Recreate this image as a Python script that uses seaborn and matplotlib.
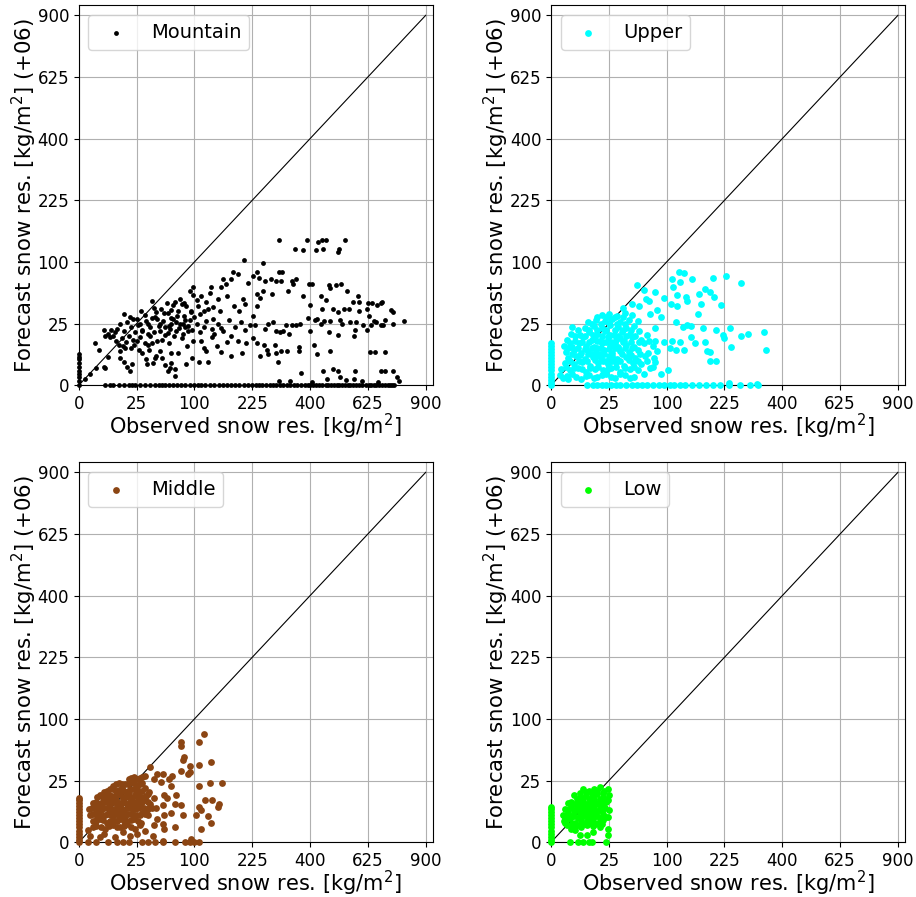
import numpy as np
import pandas as pd
import matplotlib
matplotlib.use("Agg")
import matplotlib.pyplot as plt
import seaborn as sns

# (observed, forecast) pairs in kg/m2
mountain_pts = [
    (1, 0.9), (2.3, 2), (4.8, 2.3), (6.3, 5.3), (2, 11.6), (3.2, 8.4), (5.1, 2), (0.3, 0.3),
    (4.8, 20), (6.3, 17.6), (7.8, 20), (9.6, 18.5), (10.9, 21), (5.3, 16), (9, 16),
    (12.3, 10.9), (13.7, 14.4), (15.2, 19.4), (16.8, 12.3), (18.5, 16), (20.3, 22), (22, 13.7),
    (24, 18.5), (26, 24), (28, 15.2), (13, 7.8), (16, 9), (23, 10.9), (27, 8.4), (15.2, 33.6),
    (21.6, 29), (29, 36), (25, 29), (17.6, 26), (13, 25),
    (15.2, 3.6), (17.6, 2.3), (19.4, 1.4), (21, 2.9), (13, 4.8), (30, 6.8), (33.6, 4.4), (37, 8.4),
    (41, 3.2), (45, 5.8), (49, 7.8), (36, 10.9), (55, 2.6), (59, 1.4), (64, 3.2), (69, 1.7), (69, 0.6),
    (42, 18.5), (44, 31), (48, 23), (50, 38), (53, 27), (56, 16.8), (59, 34), (62, 21), (66, 42),
    (67, 29), (71, 19.4), (74, 36), (77, 25), (81, 17.6), (83, 32), (86, 41), (90, 23), (92, 28),
    (49, 25), (64, 25), (81, 25), (58, 44), (76, 49), (46, 13), (61, 11.6), (79, 14.4), (88, 10.2),
    (52, 4.8), (74, 6.8), (96, 4.8), (108, 3.6),
    (30, 20), (34, 27), (38, 22), (40, 30), (36, 17), (45, 35), (55, 22), (63, 30), (70, 26),
    (85, 22), (95, 35), (60, 18), (33, 12), (40, 12), (28, 25),
    (20.3, 9), (25, 13), (30.3, 19.4), (36, 25), (38.4, 16), (42.3, 39.7), (46.2, 29.2), (49, 19.4),
    (51.8, 13.7), (54.8, 34.8), (60.8, 23), (64, 37.2), (67.2, 16), (72.3, 31.4), (75.7, 21.2),
    (79.2, 43.6), (84.6, 28.1), (88.4, 19.4), (94.1, 36), (100, 30.3), (104, 47.6), (110, 33.6),
    (117, 22.1), (125, 38.4), (135, 29.2), (144, 49), (151, 21.2), (10.2, 13), (7.29, 15.2),
    (19.4, 30.3), (32.5, 32.5), (39.7, 46.2), (14.4, 10.2), (98, 13), (117, 9), (137, 17.6),
    (174, 16), (193, 36), (207, 43.6), (43.6, 4.84), (64, 6.76), (34.8, 2.89), (62.4, 1.96),
    (86.5, 2.89),
    (69, 46), (83, 44), (98, 64), (98, 53), (92, 58),
    (106, 41), (112, 52), (121, 46), (128, 56), (135, 40), (117, 36),
    (130, 64), (151, 64), (161, 67), (174, 74), (156, 74), (177, 85), (190, 81), (204, 104),
    (96, 20), (104, 25), (110, 18.5), (121, 27), (132, 21), (144, 25), (156, 19.4), (169, 28),
    (182, 22), (196, 26), (207, 20), (149, 36), (180, 41), (202, 49), (164, 52), (213, 69),
    (112, 13), (121, 7.8), (132, 15.2), (142, 10.2), (151, 7.3), (125, 3.6), (164, 12.3),
    (174, 5.8), (190, 13), (199, 6.8), (210, 11.6),
    (299, 139), (350, 123), (376, 121), (388, 139), (420, 121), (428, 135), (441, 139),
    (458, 139), (445, 123), (502, 117), (506, 123), (529, 139),
    (253, 98), (228, 79), (237, 85), (243, 76), (299, 85), (310, 85), (276, 74), (259, 72),
    (292, 71), (306, 71), (339, 72), (353, 74), (342, 67), (328, 58), (279, 55), (253, 58),
    (237, 55), (246, 50),
    (396, 67), (408, 67), (376, 52), (437, 52), (458, 48), (467, 66), (471, 62), (493, 66),
    (515, 67), (538, 58), (400, 42), (441, 38), (484, 38), (502, 35), (524, 38), (548, 38),
    (562, 46), (581, 52), (586, 46), (586, 36), (625, 44), (645, 45), (666, 42), (681, 44),
    (686, 46), (620, 38), (630, 32), (729, 37), (740, 35), (228, 32), (237, 41),
    (219, 24), (231, 24), (259, 21), (269, 25), (282, 26), (292, 19.4), (303, 18.5), (313, 19.4),
    (320, 24), (331, 17.6), (339, 24), (353, 24), (365, 25), (392, 30), (400, 19.4), (416, 28),
    (424, 29), (437, 25), (449, 27), (467, 18.5), (471, 27), (502, 16.8), (511, 28), (520, 25),
    (552, 26), (576, 26), (571, 20), (566, 16), (605, 24), (620, 20), (640, 24), (650, 27),
    (660, 26), (681, 24), (692, 24), (702, 28), (740, 25), (790, 27),
    (228, 14.4), (237, 11.6), (256, 10.9), (266, 8.4), (269, 6.3), (289, 10.9), (292, 6.8),
    (306, 7.8), (324, 7.8), (361, 9.6), (361, 7.8), (412, 10.9), (424, 6.3), (471, 7.8),
    (246, 5.8), (296, 3.6), (635, 7.3), (655, 7.3), (702, 7.3), (369, 1), (445, 1.4), (484, 1.7),
    (502, 1.4), (571, 1.4), (681, 1.4), (702, 1.4), (740, 1.4), (756, 0.4), (767, 0.1),
    (511, 0.5), (462, 0.25), (566, 0.25),
    (299, 0.1), (335, 0.12), (408, 0.09), (534, 0.16), (600, 0.12), (671, 0.09),
]
mountain_obs_fc0 = [5.3, 7.3, 9, 12, 15.2, 18.5, 21, 24, 28, 33, 38, 44, 48, 52, 56, 61, 66, 72,
                    78, 85, 92, 100, 106, 112, 120, 128, 137, 146, 155, 164, 173, 182, 193, 204,
                    214, 225, 234, 243, 252, 262, 272, 282, 292, 303, 313, 324, 335, 346, 357,
                    369, 384, 392, 400, 410, 420, 430, 441, 458, 466, 475, 486, 497, 508, 520,
                    531, 543, 552, 562, 574, 586, 600, 615, 628, 640, 650, 660, 672, 686, 699,
                    713, 722, 734, 745]
mountain_fc_obs0 = [0, 0.1, 0.4, 0.8, 1.4, 2.3, 3.2, 4.4, 5.3, 6.3]

upper_pts = [
    (0.56, 0.64), (2.25, 0.25),
    (1, 0.36), (3.24, 0.81), (6.76, 0.25), (10.9, 0.64), (16, 0.49), (23, 0.81), (30.3, 0.36),
    (41, 0.64), (51.8, 0.49), (64, 0.81),
    (0.81, 1.69), (2.56, 1.44), (5.29, 1.96), (9, 1.21), (14.4, 1.69), (20.3, 1.44), (27, 1.96),
    (36, 1.21), (46.2, 1.69), (56.3, 1.44), (74, 1.96),
    (1.44, 3.24), (4, 2.89), (7.29, 3.61), (11.6, 2.56), (16.8, 3.24), (24, 2.89), (31.4, 3.61),
    (39.7, 2.56), (50.4, 3.24), (60.8, 2.89), (81, 3.61),
    (2.25, 4.84), (4.84, 5.76), (8.41, 4.41), (13, 5.29), (18.5, 4.84), (25, 5.76), (32.5, 4.41),
    (42.3, 5.29), (53.3, 4.84), (65.6, 5.76), (79.2, 4.84),
    (1.69, 7.29), (4, 8.41), (6.76, 6.76), (10.2, 7.84), (15.2, 7.29), (21.2, 8.41), (28.1, 6.76),
    (36, 7.84), (44.9, 7.29), (56.3, 8.41), (70.6, 6.76), (84.6, 7.84),
    (1.21, 10.2), (3.24, 9.61), (5.76, 11.6), (9, 10.2), (13.7, 9.61), (19.4, 11.6), (26, 10.2),
    (33.6, 9.61), (42.3, 10.9), (51.8, 9.61), (64, 11.6), (77.4, 10.2),
    (1.96, 13.7), (4.41, 13), (7.84, 15.2), (12.3, 13.7), (17.6, 13), (24, 15.2), (31.4, 13.7),
    (39.7, 13), (49, 15.2), (60.8, 13.7), (72.3, 13),
    (2.89, 17.6), (6.25, 16.8), (10.9, 18.5), (16, 17.6), (22.1, 19.4), (29.2, 16.8), (37.2, 18.5),
    (46.2, 17.6), (57.8, 19.4), (68.9, 16.8),
    (3.24, 22.1), (8.41, 21.2), (13.7, 23), (19.4, 21.2), (26, 24), (33.6, 22.1), (42.3, 21.2),
    (51.8, 23),
    (10.2, 26), (15.2, 28.1), (22.1, 27), (28.1, 29.2), (36, 26), (44.9, 28.1), (56.3, 27),
    (19.4, 32.5), (25, 33.6), (32.5, 31.4), (41, 34.8), (49, 32.5),
    (12.3, 6.25), (16, 9), (20.3, 12.3), (25, 16), (30.3, 9), (17.6, 6.25), (14.4, 16), (27, 12.3),
    (36, 14.4), (23, 4),
    (1.96, 0.56), (4.84, 0.49), (9, 0.56), (13.7, 0.36), (19.4, 0.64), (27, 0.49), (36, 0.81),
    (46.2, 0.36),
    (1.69, 2.25), (4, 1.96), (7.29, 1.69), (11.6, 1.96), (16.8, 2.25), (24, 1.69), (31.4, 2.25),
    (41, 1.96), (51.8, 2.25),
    (2.56, 4), (5.76, 4), (9.61, 4), (14.4, 4.2), (20.3, 4), (28.1, 4), (36, 4), (44.9, 4.2),
    (56.3, 4),
    (3.24, 6.25), (6.25, 6), (10.2, 6.25), (15.2, 5.5), (21.2, 6.25), (28.1, 5.76), (37.2, 6.25),
    (47.6, 6), (59.3, 6.25),
    (2.25, 9), (5.29, 9), (8.41, 8.7), (12.3, 9), (18.5, 9), (25, 8.7), (33.6, 9), (41, 9), (49, 9),
    (2.56, 11.9), (7.29, 12.3), (10.9, 12.3), (16, 12.6), (23, 12.3), (30.3, 11.9), (38.4, 12.3),
    (47.6, 12.3), (57.8, 12.3),
    (4.41, 16), (8.41, 16), (13, 16.4), (19.4, 16), (26, 16.4), (33.6, 16), (42.3, 16), (53.3, 16),
    (5.29, 20.3), (10.9, 20.3), (16, 20.3), (23, 20.3), (30.3, 19.8), (38.4, 20.3), (47.6, 20.3),
    (12.3, 25), (18.5, 25), (25, 25.5), (32.5, 25), (41, 25),
    (16, 30.3), (23, 30.3), (30.3, 30.8), (38.4, 30.3),
    (110, 74), (132, 82.8), (149, 74), (196, 75.7), (228, 79.2), (269, 68.9), (125, 70.6),
    (112, 64), (81, 57.8), (54.8, 65.6), (64, 59.3), (96, 50.4), (119, 53.3), (137, 51.8),
    (164, 54.8), (177, 60.8), (188, 57.8), (199, 51.8), (139, 46.2), (169, 43.6), (216, 42.3),
    (161, 33.6), (119, 41), (108, 43.6), (84.6, 37.2), (90.3, 30.3), (74, 33.6), (117, 26),
    (130, 22.1), (139, 24), (146, 23), (172, 21.2), (204, 20.3), (222, 16.8), (240, 21.2),
    (269, 16), (289, 17.6), (339, 18.5), (225, 14.4), (177, 12.3), (156, 11.6), (146, 15.2),
    (125, 12.3), (110, 13), (96, 12.3), (81, 21.2), (81, 13), (132, 8.41), (117, 8.41), (106, 9),
    (182, 7.84), (188, 7.29), (243, 9.61), (346, 8.41), (190, 4), (204, 4), (102, 1.44),
    (68.9, 4), (77.4, 2.25), (90.3, 0.81), (237, 0.04), (317, 0.01), (123, 84.6), (72.3, 46.2),
    (57.8, 41), (38.4, 39.7), (49, 43.6), (67.2, 49),
]
upper_obs_fc0 = [9.6, 13, 16, 19.4, 23, 27, 31.4, 36, 42.3, 49, 54.8, 62.4, 68.9, 77.4, 86.5, 96,
                 106, 114, 125, 135, 149, 164, 180, 196, 213, 237, 266, 296, 320]
upper_fc_obs0 = [0, 0.04, 0.2, 0.49, 0.9, 1.44, 2.1, 2.89, 3.8, 4.84, 6.0, 7.29, 8.7, 10.24, 11.56]

middle_pts = [
    (1, 0.25), (4.84, 0.49), (9.61, 0.16), (14.4, 0.64), (19.4, 0.25), (25, 0.49), (32.5, 0.81),
    (0.64, 1), (2.25, 1.69), (5.29, 1.21), (9, 1.96), (13, 1.44), (17.6, 2.25), (24, 1.21),
    (28.1, 1.96),
    (1.44, 2.89), (3.24, 3.61), (5.76, 2.56), (9, 3.24), (13, 3.61), (17.6, 2.89), (23, 3.61),
    (29.2, 2.56),
    (1, 4.84), (2.25, 5.76), (4, 4.41), (6.25, 5.29), (9, 4.84), (12.3, 5.76), (16, 4.41),
    (20.3, 5.29), (25, 4.84), (30.3, 5.76), (36, 4.84),
    (0.81, 7.29), (1.96, 8.41), (3.61, 6.76), (5.76, 7.84), (8.41, 7.29), (11.6, 8.41),
    (15.2, 6.76), (19.4, 7.84), (24, 7.29), (29.2, 8.41), (34.8, 6.76), (39.7, 7.84),
    (1.44, 10.2), (2.89, 9.61), (4.84, 10.9), (7.29, 9.61), (10.2, 11.6), (13.7, 10.2),
    (17.6, 9.61), (22.1, 10.9), (27, 10.2), (32.5, 11.6), (38.4, 9.61),
    (2.56, 13.7), (4.41, 13), (6.76, 14.4), (9.61, 13), (13, 15.2), (16.8, 13.7), (21.2, 13),
    (26, 14.4), (31.4, 13.7), (36, 15.2),
    (4.84, 16.8), (7.29, 18.5), (10.2, 17.6), (13.7, 19.4), (17.6, 16.8), (22.1, 18.5),
    (27, 17.6), (32.5, 19.4),
    (9, 21.2), (12.3, 23), (16, 22.1), (20.3, 24), (25, 21.2), (30.3, 23),
    (18.5, 26), (23, 28.1), (28.1, 27), (32.5, 29.2),
    (4, 7.84), (6.76, 12.3), (10.9, 9), (14.4, 12.3), (18.5, 16), (12.3, 4), (7.84, 5.76),
    (21.2, 9), (26, 12.3), (2.56, 4), (3.24, 0.16),
    (1.44, 1.56), (3.61, 1.44), (6.76, 1.69), (10.9, 1.44), (15.2, 1.69), (20.3, 1.44),
    (2.25, 3.06), (4.41, 3.24), (7.29, 3.06), (10.9, 2.89), (15.2, 3.06), (20.3, 3.24), (26, 3.06),
    (1.56, 5.29), (3.06, 4.84), (5.06, 5.06), (7.56, 4.84), (10.6, 5.29), (14.1, 4.84),
    (18.1, 5.29), (22.6, 5.06), (27.6, 4.84), (33.1, 5.29),
    (1.32, 7.84), (2.72, 7.29), (4.62, 7.56), (7.02, 7.84), (9.92, 7.29), (13.3, 7.56),
    (17.2, 7.84), (21.6, 7.29), (26.5, 7.56), (31.9, 7.84), (37.2, 7.56),
    (2.1, 10.9), (3.8, 10.2), (6, 10.6), (8.7, 10.9), (11.9, 10.2), (15.6, 10.6), (19.8, 10.9),
    (24.5, 10.2), (29.7, 10.6), (35.4, 10.9),
    (3.42, 14.4), (5.52, 13.7), (8.12, 14.1), (11.2, 14.4), (14.8, 13.7), (18.9, 14.1),
    (23.5, 14.4), (28.6, 13.7), (34.2, 14.1),
    (6, 17.6), (8.7, 18.5), (11.9, 18.1), (15.6, 17.6), (19.8, 18.5), (24.5, 18.1), (29.7, 17.6),
    (10.6, 22.1), (14.1, 22.6), (18.1, 22.1), (22.6, 23), (27.6, 22.6),
    (20.7, 27), (25.5, 26.5), (30.3, 28.1),
    (38.4, 37.2), (46.2, 30.3), (53.3, 30.3), (65.6, 29.2), (42.3, 26), (50.4, 24), (60.8, 26),
    (64, 21.2), (37.2, 16.8), (42.3, 13), (54.8, 14.4), (57.8, 13), (44.9, 7.84), (53.3, 9),
    (68.9, 9.61), (70.6, 14.4), (77.4, 33.6), (81, 44.9), (82.8, 47.6), (77.4, 60.8),
    (92.2, 38.4), (88.4, 30.3), (77.4, 9), (81, 4.84), (64, 5.76), (54.8, 4.84), (46.2, 3.61),
    (53.3, 2.25), (54.8, 1.21), (42.3, 1.96), (68.9, 1.44), (41, 0.25), (53.3, 0.01),
    (117, 77.4), (108, 65.6), (77.4, 65.6), (108, 39.7), (130, 42.3), (92.2, 32.5), (108, 21.2),
    (128, 23), (154, 23), (119, 11.6), (132, 11.6), (146, 9.61), (144, 8.41), (108, 8.41),
    (112, 6.76), (102, 4.84), (125, 4.41), (130, 2.56), (112, 1.1), (94, 0.09),
]
middle_obs_fc0 = [0.64, 2.25, 6.25, 10.9, 14.4, 18.5, 30.3, 36, 43.6, 53.3, 68.9, 84.6, 92.2,
                  100, 108]
middle_fc_obs0 = [0, 0.04, 0.2, 0.49, 0.9, 1.44, 2.1, 2.89, 3.8, 4.84, 6.0, 7.29, 8.7, 10.24,
                  11.6, 13]

low_pts = [
    (6.25, 0.36), (9.61, 0.36), (13, 0.64), (24, 0.36), (4.41, 1), (2.89, 1.21),
    (1.96, 1.96), (4, 1.69), (6.76, 1.44), (9.61, 1.96), (13, 1.69), (17.6, 1.44), (24, 1.21),
    (1.21, 2.89), (2.56, 3.61), (4.41, 2.56), (6.76, 3.24), (9.61, 2.89), (13, 3.61),
    (16.8, 2.56), (20.3, 3.24),
    (1, 4.84), (2.25, 5.76), (4, 4.41), (6.25, 5.29), (9, 4.84), (12.3, 5.76), (16, 4.41),
    (20.3, 5.29), (24, 4.2),
    (1.44, 7.29), (2.89, 8.41), (4.84, 6.76), (7.29, 7.84), (10.2, 7.29), (13.7, 8.41),
    (17.6, 6.76), (22.1, 7.84), (25, 6.76),
    (2.25, 10.2), (4, 9.61), (6.25, 10.9), (9, 9.61), (12.3, 11.6), (16, 10.2), (20.3, 9.61),
    (24, 11.6),
    (4, 14.4), (6.25, 13), (9, 14.4), (12.3, 13.7), (16, 15.2), (20.3, 13), (25, 14.4),
    (7.84, 18.5), (10.9, 17.6), (13.7, 18.9), (17.6, 20.3), (21.2, 17.6), (24, 18.9),
    (5.29, 4), (7.84, 10.9), (10.9, 5.29), (14.4, 6.25), (18.5, 7.84), (7.84, 2.25),
    (1.56, 2.4), (3.42, 2.25), (5.52, 1.96), (11.2, 2.4), (14.8, 2.25), (19.4, 2.1),
    (1.56, 4), (3.06, 4.41), (7.56, 4.41), (10.6, 4), (14.1, 4.41), (18.1, 4), (22.6, 4.2),
    (2.1, 6.76), (3.8, 6.5), (6, 6.76), (8.7, 6.25), (11.9, 6.76), (15.6, 6.5), (19.8, 6.76),
    (3.06, 10.9), (5.06, 9), (7.56, 9.3), (10.6, 9), (14.1, 9.3), (18.1, 9), (22.6, 10.9),
    (5.06, 12.3), (7.56, 13), (10.6, 12.6), (14.1, 12.3), (18.1, 12.6), (22.6, 12.3),
    (6.25, 16), (9, 16.8), (12.3, 16), (16, 17.2), (20.3, 16),
]
low_obs_fc0 = [2.56, 5.29, 7.84, 10.6, 12.3, 23]
low_fc_obs0 = [0, 0.04, 0.2, 0.49, 0.9, 1.44, 2.1, 2.89, 3.8, 4.84, 6.0, 7.29, 8.4]

panels = [
    ("Mountain", mountain_pts, mountain_obs_fc0, mountain_fc_obs0, "black", 12),
    ("Upper", upper_pts, upper_obs_fc0, upper_fc_obs0, "#00ffff", 24),
    ("Middle", middle_pts, middle_obs_fc0, middle_fc_obs0, "#8b4513", 24),
    ("Low", low_pts, low_obs_fc0, low_fc_obs0, "#00ff00", 24),
]
ticks = [0, 25, 100, 225, 400, 625, 900]


def fwd(v):
    return np.sqrt(np.clip(v, 0, None))


def inv(v):
    return np.asarray(v) ** 2


fig, axes = plt.subplots(2, 2, figsize=(9.16, 8.97), dpi=100)
fig.subplots_adjust(left=0.086, right=0.988, bottom=0.061, top=0.994,
                    wspace=0.334, hspace=0.203)

for ax, (name, pts, obs0, fc0, color, size) in zip(axes.flat, panels):
    obs = [p[0] for p in pts] + list(obs0) + [0] * len(fc0)
    fc = [p[1] for p in pts] + [0] * len(obs0) + list(fc0)
    df = pd.DataFrame({"obs": obs, "fc": fc})

    ax.set_xscale("function", functions=(fwd, inv))
    ax.set_yscale("function", functions=(fwd, inv))
    sns.scatterplot(data=df, x="obs", y="fc", ax=ax, color=color, s=size,
                    linewidth=0, label=name, clip_on=False, zorder=3)
    ax.plot([0, 900], [0, 900], color="black", lw=0.8, zorder=2)

    ax.set_xlim(0, 937)
    ax.set_ylim(0, 949)
    ax.set_xticks(ticks)
    ax.set_yticks(ticks)
    ax.set_xticklabels([str(t) for t in ticks])
    ax.set_yticklabels([str(t) for t in ticks])
    ax.tick_params(labelsize=12)
    ax.grid(True, color="#b0b0b0", lw=0.8)
    ax.set_axisbelow(True)
    ax.set_xlabel("Observed snow res. [kg/m$^2$]", fontsize=15, labelpad=-1)
    ax.set_ylabel("Forecast snow res. [kg/m$^2$] (+06)", fontsize=15.3, labelpad=-1)
    ax.legend(loc="upper left", fontsize=14)

plt.savefig("out.png", dpi=100)
